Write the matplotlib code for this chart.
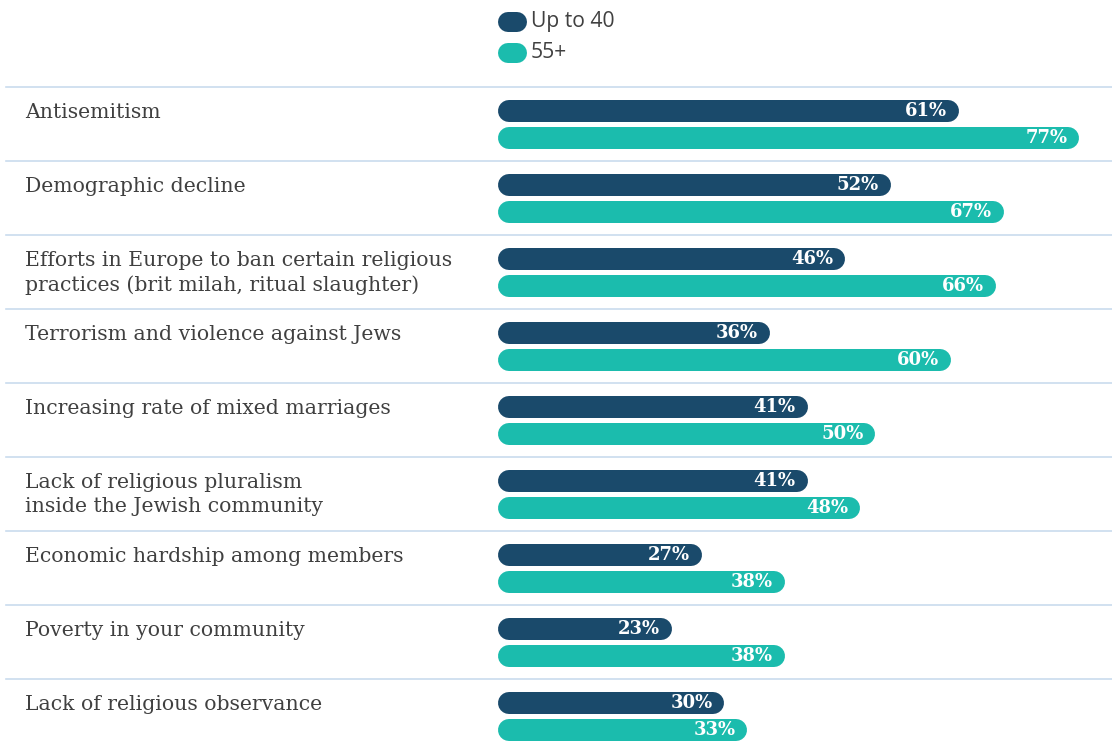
import matplotlib
matplotlib.use('Agg')
import matplotlib.pyplot as plt
from matplotlib.lines import Line2D

# data
categories = [
    "Antisemitism",
    "Demographic decline",
    "Efforts in Europe to ban certain religious\npractices (brit milah, ritual slaughter)",
    "Terrorism and violence against Jews",
    "Increasing rate of mixed marriages",
    "Lack of religious pluralism\ninside the Jewish community",
    "Economic hardship among members",
    "Poverty in your community",
    "Lack of religious observance",
]
up_to_40 = [61, 52, 46, 36, 41, 41, 27, 23, 30]
over_55 = [77, 67, 66, 60, 50, 48, 38, 38, 33]
series_names = ["Up to 40", "55+"]

DARK = '#1a4a6b'
TEAL = '#1bbcad'
GRID = '#cadcee'
TEXT = '#404040'

W, H, DPI = 1112, 749, 100
X0 = 498          # px where bars start
PX_PER_PCT = 7.55
ROW = 74          # px per row
TOP = 87          # px of first separator
BAR_H = 22        # px

fig = plt.figure(figsize=(W / DPI, H / DPI), dpi=DPI)
ax = fig.add_axes([0, 0, 1, 1])
ax.set_xlim(-X0 / PX_PER_PCT, (W - X0) / PX_PER_PCT)
ax.set_ylim((H - TOP) / ROW, -TOP / ROW)
ax.axis('off')

r = BAR_H / 2 / PX_PER_PCT      # cap radius in percent units
lw = BAR_H * 72 / DPI           # bar thickness in points
off_dark = 24 / ROW
off_teal = 51 / ROW

for i, (cat, a, b) in enumerate(zip(categories, up_to_40, over_55)):
    # separator
    ax.axhline(i, xmin=6 / W, color=GRID, lw=1.2, zorder=0)
    for val, off, col in [(a, off_dark, DARK), (b, off_teal, TEAL)]:
        ax.plot([r, val - r], [i + off, i + off], color=col, lw=lw,
                solid_capstyle='round', zorder=2)
        ax.annotate(f"{val}%", (val, i + off), xytext=(-8.5, 0),
                    textcoords='offset points', ha='right', va='center',
                    color='white', fontsize=13, fontweight='bold',
                    family='DejaVu Serif', zorder=3)
    # category label, one text per line
    for k, line in enumerate(cat.split('\n')):
        ax.text(25 / W, i + (25 + k * 25) / ROW, line,
                transform=ax.get_yaxis_transform(), ha='left', va='center',
                fontsize=14.7, color=TEXT, family='DejaVu Serif')

# legend drawn by hand
for k, (name, col) in enumerate(zip(series_names, [DARK, TEAL])):
    y = 1 - (22 + 31 * k) / H
    ax.add_line(Line2D([508 / W, 517 / W], [y, y], transform=ax.transAxes,
                       color=col, lw=20 * 72 / DPI, solid_capstyle='round'))
    ax.text(531 / W, y, name, transform=ax.transAxes, ha='left', va='center',
            fontsize=15.2, color=TEXT, family='Open Sans')

fig.savefig('out.png', dpi=DPI)
